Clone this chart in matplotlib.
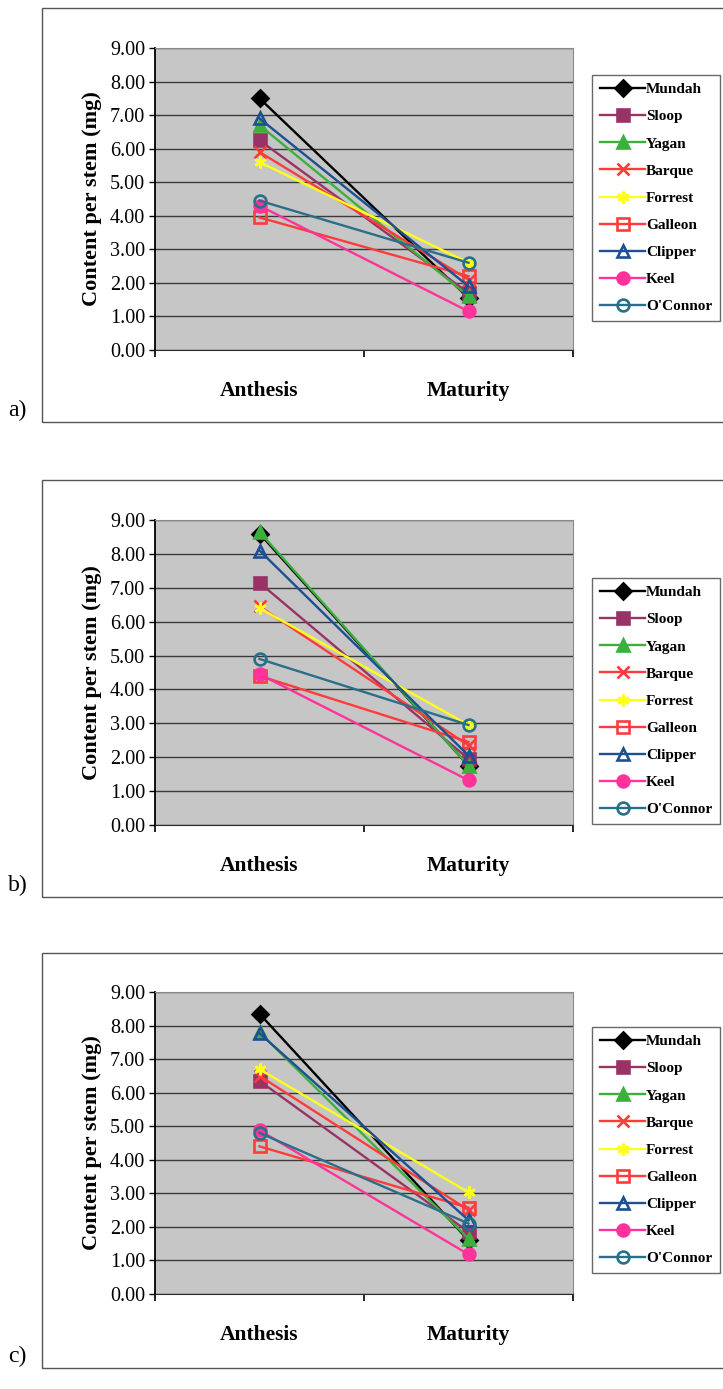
import numpy as np
import matplotlib
matplotlib.use('Agg')
import matplotlib.pyplot as plt
from matplotlib.patches import Rectangle

plt.rcParams['font.family'] = ['Liberation Serif', 'DejaVu Serif']

# data
stages = ['Anthesis', 'Maturity']
names = ['Mundah', 'Sloop', 'Yagan', 'Barque', 'Forrest', 'Galleon', 'Clipper', 'Keel', "O'Connor"]
a_anth = [7.50, 6.25, 6.70, 5.90, 5.60, 3.95, 6.90, 4.30, 4.45]
a_mat = [1.55, 1.70, 1.60, 2.10, 2.60, 2.20, 1.90, 1.15, 2.60]
b_anth = [8.60, 7.15, 8.65, 6.45, 6.40, 4.40, 8.10, 4.45, 4.90]
b_mat = [1.75, 1.95, 1.75, 2.35, 2.95, 2.45, 2.05, 1.32, 2.95]
c_anth = [8.35, 6.35, 7.80, 6.50, 6.70, 4.40, 7.77, 4.88, 4.80]
c_mat = [1.60, 1.85, 1.65, 2.50, 3.03, 2.57, 2.20, 1.18, 2.10]
yticks = [0, 1, 2, 3, 4, 5, 6, 7, 8, 9]

# styles
colors = ['#000000', '#993366', '#3cb03c', '#ff3b3b', '#ffff1a', '#ff3b3b', '#1d4f93', '#ff3399', '#2a6f8a']
markers = ['D', 's', '^', 'x', (6, 2, 0), 's', '^', 'o', 'o']
filled = [True, True, True, True, True, False, False, True, False]

W, H = 723, 1389
fig = plt.figure(figsize=(W / 100, H / 100), dpi=100)

panels = [
    (a_anth, a_mat, 48, 350, 8, 422, 75, 'a)'),
    (b_anth, b_mat, 520, 825, 480, 897, 578, 'b)'),
    (c_anth, c_mat, 992, 1294, 953, 1368, 1027, 'c)'),
]

for anth, mat, ytop, ybot, btop, bbot, legtop, lab in panels:
    # outer box of the panel
    fig.patches.append(Rectangle((42 / W, 1 - bbot / H), 1.0, (bbot - btop) / H,
                                 transform=fig.transFigure, fill=False,
                                 edgecolor='#555555', linewidth=1.0))
    fig.text(8 / W, 1 - (bbot - 12) / H, lab, fontsize=17, va='center', ha='left')

    ax = fig.add_axes([155 / W, 1 - ybot / H, (573 - 155) / W, (ybot - ytop) / H])
    ax.set_facecolor('#c6c6c6')
    for i in range(len(names)):
        mfc = colors[i] if filled[i] else 'none'
        ax.plot([0, 1], [anth[i], mat[i]], color=colors[i], linewidth=1.7,
                marker=markers[i], markersize=8.5, markerfacecolor=mfc,
                markeredgecolor=colors[i], markeredgewidth=1.9, label=names[i],
                zorder=3)
    ax.set_xlim(-0.5, 1.5)
    ax.set_ylim(0, 9)
    ax.set_yticks(yticks)
    ax.set_yticklabels(['%.2f' % v for v in yticks], fontsize=14.5)
    ax.yaxis.grid(True, color='#3a3a3a', linewidth=1.0)
    ax.set_axisbelow(True)
    ax.set_xticks([0, 1])
    ax.set_xticklabels(stages, fontsize=15.5, fontweight='bold')
    ax.set_xticks([-0.5, 0.5, 1.5], minor=True)
    ax.tick_params(axis='x', which='major', length=0, pad=22)
    ax.tick_params(axis='x', which='minor', length=5, width=1.2, direction='out')
    ax.tick_params(axis='y', length=4, width=1.0, direction='out', pad=3)
    ax.set_ylabel('Content per stem (mg)', fontsize=16, fontweight='bold', labelpad=6)
    for s in ['top', 'right']:
        ax.spines[s].set_color('#8a8a8a')
    ax.spines['left'].set_color('#000000')
    ax.spines['left'].set_linewidth(1.3)
    ax.spines['bottom'].set_color('#2a2a2a')

    leg = ax.legend(loc='upper left', bbox_to_anchor=(592 / W, 1 - legtop / H),
                    bbox_transform=fig.transFigure, frameon=True, fancybox=False,
                    fontsize=11, handlelength=3.0, handletextpad=0.05,
                    labelspacing=0.88, borderpad=0.5, borderaxespad=0)
    leg.get_frame().set_edgecolor('#444444')
    leg.get_frame().set_linewidth(1.0)
    for t in leg.get_texts():
        t.set_fontweight('bold')

fig.savefig('out.png', dpi=100)
